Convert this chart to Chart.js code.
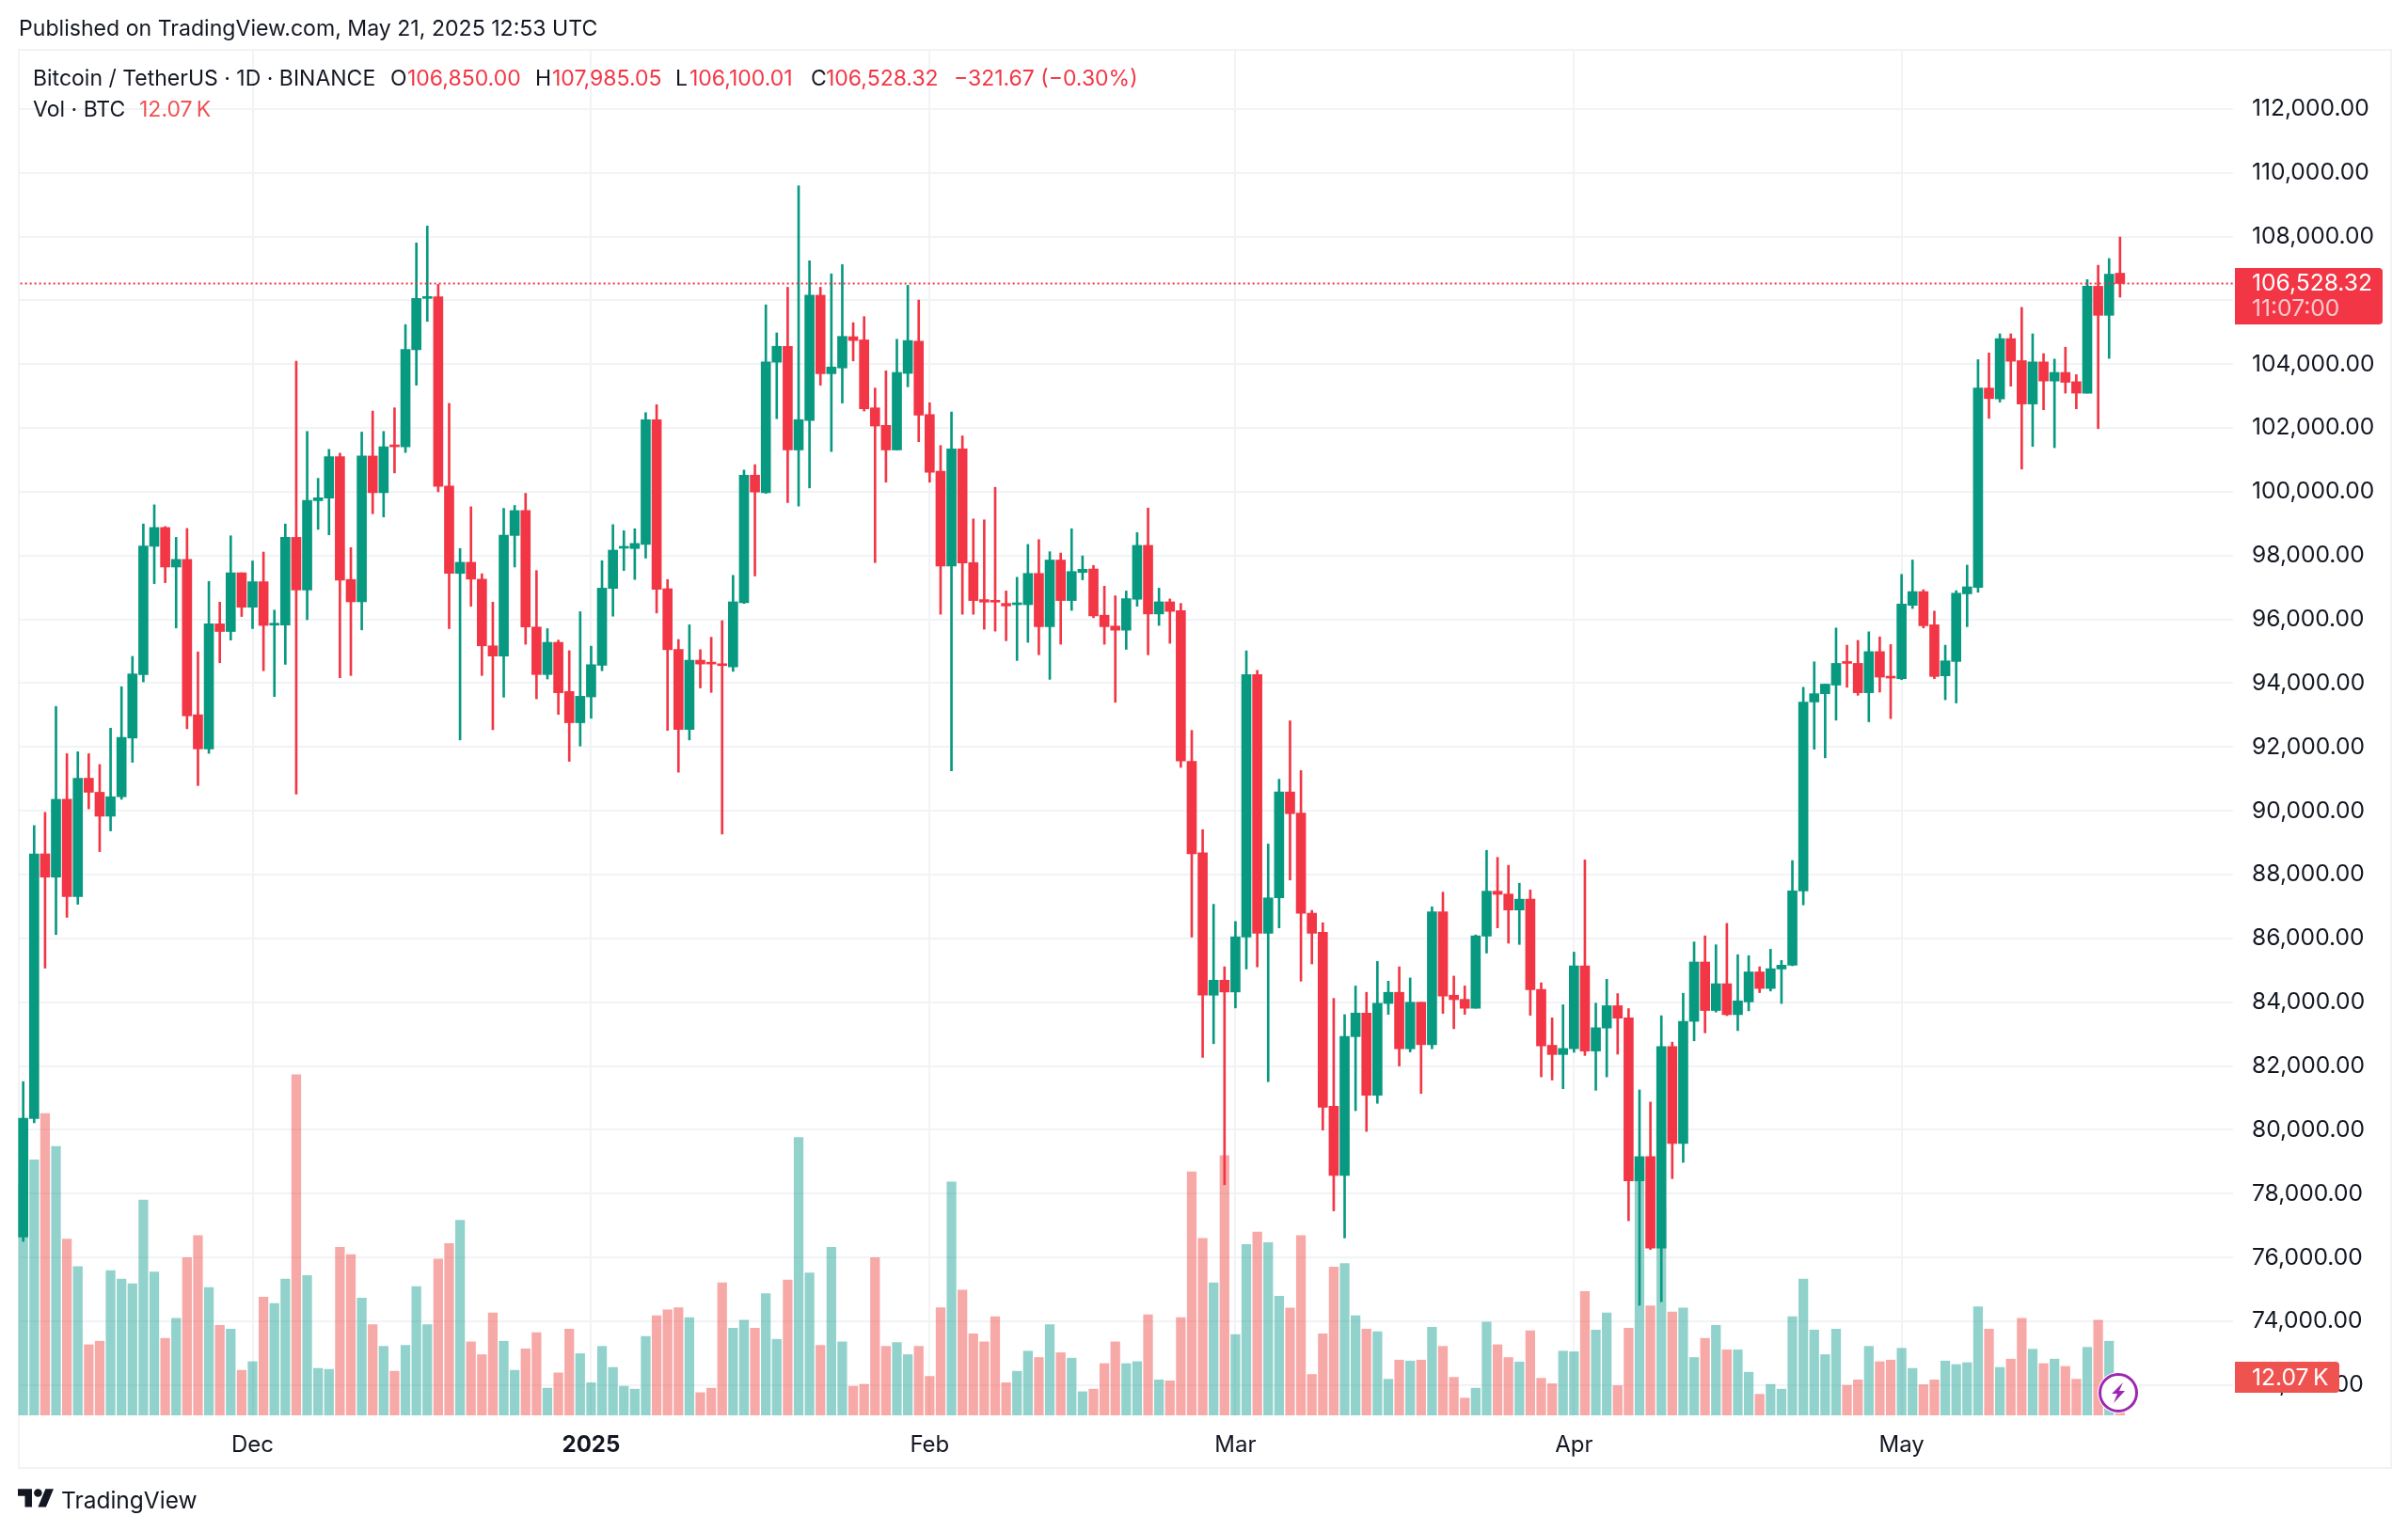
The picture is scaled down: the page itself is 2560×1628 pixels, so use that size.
<!DOCTYPE html>
<html><head><meta charset="utf-8"><title>Bitcoin / TetherUS</title>
<script src="https://cdn.jsdelivr.net/npm/chart.js@4"></script>
<style>
html,body{margin:0;padding:0;background:#fff;}
#stage{position:relative;width:2560px;height:1628px;overflow:hidden;background:#fff;font-family:Inter,"Noto Sans",sans-serif;color:#131722;}
canvas{position:absolute;left:0;top:0;}
.t{position:absolute;white-space:pre;font-size:23px;line-height:28px;}
.r{color:#f23645;}
.b{font-size:24.6px;}
#frame{position:absolute;left:19px;top:52px;width:2520px;height:1506px;border:2px solid #f2f3f5;}
.tag{position:absolute;border-radius:0 4px 4px 0;}
</style></head><body>
<div id="stage">
<div id="frame"></div>
<canvas id="c" width="2560" height="1628"></canvas>
<div class="t" style="left:20px;top:16px;font-size:23.1px">Published on TradingView.com, May 21, 2025 12:53 UTC</div>
<div class="t" style="left:35px;top:69px">Bitcoin / TetherUS · 1D · BINANCE</div>
<div class="t" style="left:415px;top:69px">O</div><div class="t r" style="left:433px;top:69px">106,850.00</div>
<div class="t" style="left:569px;top:69px">H</div><div class="t r" style="left:587px;top:69px">107,985.05</div>
<div class="t" style="left:718px;top:69px">L</div><div class="t r" style="left:733px;top:69px">106,100.01</div>
<div class="t" style="left:862px;top:69px">C</div><div class="t r" style="left:878px;top:69px">106,528.32</div>
<div class="t r" style="left:1014px;top:69px">−321.67 (−0.30%)</div>
<div class="t" style="left:35px;top:102px">Vol · BTC</div>
<div class="t" style="left:148px;top:102px;color:#ef5350">12.07&#8201;K</div>
<div class="tag" style="left:2376px;top:285px;width:157px;height:60px;background:#f23645"></div>
<div class="t b" style="left:2394px;top:286px;color:#fff;">106,528.32</div>
<div class="t b" style="left:2394px;top:313px;color:#fbc8cc;">11:07:00</div>
<div class="tag" style="left:2376px;top:1448px;width:111px;height:33px;background:#ef5350"></div>
<div class="t b" style="left:2394px;top:1450px;color:#fff;">12.07&#8201;K</div>
<svg style="position:absolute;left:2228px;top:1457px" width="48" height="48" viewBox="0 0 48 48"><circle cx="24" cy="24" r="22" fill="#fff"/><circle cx="24" cy="24" r="19.5" fill="#fff" stroke="#9c27b0" stroke-width="3"/><path d="M29 13 L17 25 L23 25 L19 35 L31 22 L25 22 Z" fill="#9c27b0"/></svg>
<svg style="position:absolute;left:19px;top:1579px" width="38.5" height="30" viewBox="0 0 36 28"><path d="M14 22H7V11H0V4h14v18ZM28 22h-8l7.5-18h8L28 22Z" fill="#131722"/><circle cx="20" cy="8" r="4" fill="#131722"/></svg>
<div class="t" style="left:65px;top:1581px;font-size:24.5px;">TradingView</div>
</div>
<script>
const opens=[76640,80350,88650,87920,90360,87310,91020,90580,89830,90440,92280,94270,98290,98880,97640,97880,93010,91940,95860,95620,97460,96380,97180,95820,95820,98570,96920,99720,99800,101100,97250,96550,101120,99970,101430,101410,104450,106060,106110,100180,97440,97790,97260,95170,94850,98630,99410,95760,94270,95280,93740,92760,93570,94560,96970,98230,98220,98350,102260,96960,95060,92550,94720,94640,94580,94510,96520,100520,99970,104060,104560,101310,102230,106160,103700,103880,104860,104760,102630,102080,101310,103710,104720,102420,100640,97670,101340,97780,96620,96580,96500,96460,96460,97440,95770,97860,96590,97470,97580,96130,95790,95660,96630,98320,96170,96550,96270,91550,88680,84220,84690,84320,86040,94270,86160,87270,90590,89930,86790,86190,80740,78570,82920,83660,81080,83960,84310,82540,84000,82670,86830,84220,84090,83810,86070,87480,87390,86890,87230,84400,82650,82360,82540,85140,82470,83190,83890,83510,78400,79160,76290,82610,79570,83400,85260,83740,84580,83610,84010,84950,84430,85040,85160,87490,93410,93670,93940,94650,94620,93700,94990,94210,94140,96440,96870,95830,94230,94680,96800,97000,103250,102910,104800,104110,102750,104070,103470,103740,103450,103090,106440,105530,106850];
const closes=[80360,88650,87920,90360,87310,91020,90580,89830,90440,92300,94290,98300,98880,97640,97880,92980,91940,95860,95620,97460,96380,97180,95810,95850,98570,96920,99730,99810,101100,97230,96550,101120,99970,101410,101410,104460,106060,106110,100170,97440,97790,97260,95170,94850,98640,99410,95760,94270,95280,93700,92760,93590,94580,96980,98170,98260,98380,102260,96940,95050,92550,94720,94600,94600,94550,96550,100520,99990,104070,104560,101310,102260,106160,103700,103910,104870,104740,102600,102060,101310,103740,104740,102400,100610,97670,101340,97770,96590,96540,96540,96420,96500,97440,95770,97860,96590,97500,97570,96110,95770,95660,96650,98320,96170,96550,96250,91560,88650,84220,84690,84320,86050,94270,86160,87270,90590,89910,86790,86160,80710,78570,82930,83660,81080,83970,84310,82540,84000,82670,86830,84190,84080,83810,86080,87480,87380,86890,87230,84390,82630,82360,82550,85140,82470,83200,83890,83500,78400,79160,76290,82610,79570,83400,85260,83740,84580,83610,84040,84950,84430,85050,85160,87490,93410,93670,93970,94620,94620,93700,94990,94190,94160,96480,96870,95800,94210,94700,96820,97020,103250,102920,104800,104090,102750,104070,103470,103740,103430,103090,106440,105530,106820,106528.32];
const highs=[81510,89540,89950,93270,91790,91850,91790,91450,92590,93890,94840,98990,99590,98910,98570,98850,94980,97190,96540,98620,97460,97830,98110,96290,98990,104090,101890,100420,101330,101210,98250,101870,102530,101890,102630,105240,107800,108330,106500,102770,98220,99530,97430,96540,99480,99570,99950,97530,95710,95350,95020,96240,95160,97840,98970,98780,98840,102480,102730,97250,95370,95830,95050,95440,95960,97380,100680,100850,105860,104980,106410,109590,107240,106410,106830,107120,105300,105490,103250,103790,104780,106470,106010,102790,101450,102500,101750,99150,99120,100140,96890,97320,98350,98500,98120,98080,98840,97990,97690,97040,96740,96890,98720,99490,96980,96640,96500,92520,89410,87070,85110,86530,95010,94400,88960,90990,92820,91260,86880,86490,84120,83610,84510,84310,85280,84660,85110,84760,84000,86990,87450,84820,84510,86110,88760,88540,88290,87730,87520,84610,83510,83920,85570,88460,83970,84720,84270,83800,81250,80870,83580,82750,84280,85890,86080,85800,86470,85490,85460,85110,85660,85310,88440,93870,94670,93970,95730,95190,95340,95610,95450,95210,97410,97860,96930,96260,95190,96900,97700,104140,104350,104950,104950,105780,104950,104330,104160,104530,103670,106650,107100,107310,107985.05];
const lows=[76500,80220,85070,86120,86660,87070,90060,88720,89370,90360,91520,94040,97120,97150,95730,92570,90790,91800,94640,95350,96090,95710,94390,93580,94590,90520,95990,98820,98650,94170,94240,95670,99310,99210,100590,101230,103340,105340,100000,95710,92220,96410,94240,92540,93560,97640,95220,93510,94130,93020,91550,92030,92900,94390,96100,97530,97250,97920,96200,92520,91210,92220,93850,93710,89270,94370,96500,97360,99950,102290,99660,99550,100120,103340,101260,102780,104100,102530,97780,100300,101310,103290,101570,100300,96160,91250,96160,96160,95690,95630,95330,94710,95280,94890,94120,95220,96280,97240,96050,95220,93400,95060,96410,94890,95810,95250,91360,86040,82270,82700,78280,83820,85040,85110,81510,86330,87830,84660,85200,79990,77460,76610,80600,79950,80830,83620,82000,82440,81140,82540,83650,83170,83620,83810,85540,86330,85850,85810,83590,81660,81560,81290,82430,82330,81240,81660,82370,77150,74500,76250,74610,78470,78980,82790,83040,83690,83580,83110,83730,84300,84350,83960,85140,87050,91930,91660,92840,93870,93620,92790,93720,92890,94110,96340,95730,94140,93480,93380,95770,96850,102300,102810,103310,100710,101420,102570,101380,103090,102600,103090,101980,104180,106100];
const volumesK=[72.1,80.0,94.5,84.2,55.2,46.6,22.1,23.2,45.3,42.7,41.2,67.4,44.9,24.1,30.4,49.4,56.3,40.0,28.2,27.0,14.1,16.8,37.0,35.0,42.7,106.6,43.8,14.7,14.4,52.6,50.3,36.7,28.4,21.6,13.8,21.9,40.3,28.4,48.9,53.8,61.1,23.0,19.0,32.1,23.2,14.1,20.8,25.9,8.5,13.3,27.0,19.3,10.2,21.6,15.0,9.1,8.2,24.7,31.2,33.0,33.7,30.6,7.1,8.5,41.5,27.3,29.8,27.3,38.1,23.8,42.4,87.0,44.6,21.9,52.6,23.0,9.1,9.7,49.4,21.6,22.8,19.0,21.6,12.2,33.7,73.1,39.2,25.5,23.0,30.9,10.2,13.8,20.1,18.1,28.4,19.6,17.9,7.4,8.2,16.2,23.0,16.2,16.8,31.5,11.1,10.8,30.6,76.2,55.4,41.5,81.3,25.3,53.5,57.4,54.1,37.3,33.6,56.3,12.8,25.5,46.4,47.5,31.2,27.0,26.2,11.3,17.3,17.0,17.3,27.6,21.6,11.9,5.4,8.5,29.2,22.1,18.1,16.7,26.5,11.6,9.9,20.1,19.9,38.8,26.7,32.1,9.3,27.3,77.0,34.3,64.3,32.4,33.6,18.1,24.1,28.2,20.5,20.5,13.5,6.6,9.7,8.2,30.9,42.7,26.7,19.0,27.0,9.4,11.1,21.6,16.8,17.3,21.0,14.7,9.6,11.1,17.0,15.9,16.5,34.0,27.0,15.0,17.6,30.4,20.7,16.2,17.6,15.3,11.3,21.3,29.8,23.2,12.07];
const monthTickIndex=[21,52,83,111,142,172];
const monthTickLabels=["Dec","2025","Feb","Mar","Apr","May"];
const priceTicks=[72000,74000,76000,78000,80000,82000,84000,86000,88000,90000,92000,94000,96000,98000,100000,102000,104000,106000,108000,110000,112000];
const lastPrice=106528.32;

const UP='#089981',DOWN='#f23645',UPV='rgba(38,166,154,0.5)',DOWNV='rgba(239,83,80,0.5)';
const GRID='#f2f3f5',FONT='Inter';
const isUp=i=>closes[i]>=opens[i];
const idx=opens.map((_,i)=>i);
new Chart(document.getElementById('c'),{
  type:'bar',
  data:{datasets:[
    {type:'line',label:'Last',data:[{x:-5,y:lastPrice},{x:210,y:lastPrice}],borderColor:DOWN,borderWidth:2,borderDash:[2,3],pointRadius:0,yAxisID:'y',order:0},
    {label:'Body',data:idx.map(i=>({x:i,y:[opens[i],closes[i]]})),backgroundColor:idx.map(i=>isUp(i)?UP:DOWN),barThickness:10,minBarLength:2,grouped:false,yAxisID:'y',order:1},
    {label:'Wick',data:idx.map(i=>({x:i,y:[lows[i],highs[i]]})),backgroundColor:idx.map(i=>isUp(i)?UP:DOWN),barThickness:2,grouped:false,yAxisID:'y',order:2},
    {label:'Volume',data:idx.map(i=>({x:i,y:volumesK[i]})),backgroundColor:idx.map(i=>isUp(i)?UPV:DOWNV),barThickness:9.6,grouped:false,yAxisID:'v',order:3}
  ]},
  options:{
    responsive:false,animation:false,devicePixelRatio:1,
    layout:{padding:{left:19,top:52,right:19,bottom:68}},
    plugins:{legend:{display:false},tooltip:{enabled:false}},
    scales:{
      x:{type:'linear',offset:false,min:-0.49,max:202.35,
        grid:{offset:false,color:GRID,lineWidth:2,drawTicks:false},border:{display:false},
        afterBuildTicks:s=>{s.ticks=monthTickIndex.map(v=>({value:v}));},
        afterFit:s=>{s.height=55;},
        ticks:{autoSkip:false,maxRotation:0,padding:17,color:'#131722',
          font:c=>({family:FONT,size:24,weight:c.index===1?'700':'400'}),
          callback:(v)=>monthTickLabels[monthTickIndex.indexOf(v)]}},
      y:{type:'linear',position:'right',min:71051,max:113881,
        grid:{color:GRID,lineWidth:2,drawTicks:false},border:{display:false},
        afterBuildTicks:s=>{s.ticks=priceTicks.map(v=>({value:v}));},
        afterFit:s=>{s.width=167;},
        ticks:{autoSkip:false,padding:20,color:'#131722',font:{family:FONT,size:24.6},
          callback:v=>v.toLocaleString('en-US',{minimumFractionDigits:2,maximumFractionDigits:2})}},
      v:{type:'linear',display:false,min:0,max:427.8}
    }
  }
});
</script></body></html>
